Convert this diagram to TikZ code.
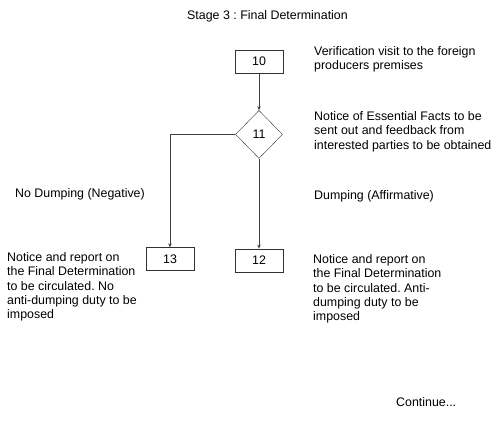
\documentclass[tikz,border=0pt]{standalone}
\usepackage{fontspec}
\setmainfont{Liberation Sans}
\usetikzlibrary{shapes.geometric, arrows.meta, positioning}
\newcommand{\notefont}{\fontsize{12.4}{14.2}\selectfont}
\frenchspacing

\begin{document}
\begin{tikzpicture}[
    x=1pt, y=-1pt,
    node distance=37pt and 40pt,
    box/.style={rectangle, draw=black!80, minimum width=48pt, minimum height=23pt, inner sep=0pt, font=\notefont},
    decision/.style={diamond, draw=black!80, minimum width=47pt, minimum height=48pt, inner sep=0pt, font=\notefont},
    arrow/.style={-{Stealth[length=4pt,width=3.5pt]}, black!75, semithick},
    note/.style={align=left, inner sep=0pt, anchor=north west, font=\notefont}
]
\useasboundingbox (0,0) rectangle (500,423);

% Title
\node[font=\notefont] (title) at (267.5,16) {Stage 3 : Final Determination};

% Flow
\node[box] (n10) at (259,61.5) {10};
\node[decision, below=37pt of n10] (n11) {11};
\node[box, below=90pt of n11] (n12) {12};
\node[box] (n13) at (170,259) {13};

% Notes
\node[note] (visit) at (314,46.5) {Verification visit to the foreign\\producers premises};
\node[note] (facts) at (314,111.5) {Notice of Essential Facts to be\\sent out and feedback from\\interested parties to be obtained};
\node[note] (yes) at (314,190.5) {Dumping (Affirmative)};
\node[note] (no) at (15,188.5) {No Dumping (Negative)};
\node[note] (negnote) at (7,252.5) {Notice and report on\\the Final Determination\\to be circulated. No\\anti-dumping duty to be\\imposed};
\node[note] (posnote) at (313,254.5) {Notice and report on\\the Final Determination\\to be circulated. Anti-\\dumping duty to be\\imposed};
\node[note] (cont) at (396,397.5) {Continue...};

% Arrows
\draw[arrow] (n10) -- (n11);
\draw[arrow] (n11) -- (n12);
\draw[arrow] (n11.west) -| (n13.north);

\end{tikzpicture}
\end{document}
